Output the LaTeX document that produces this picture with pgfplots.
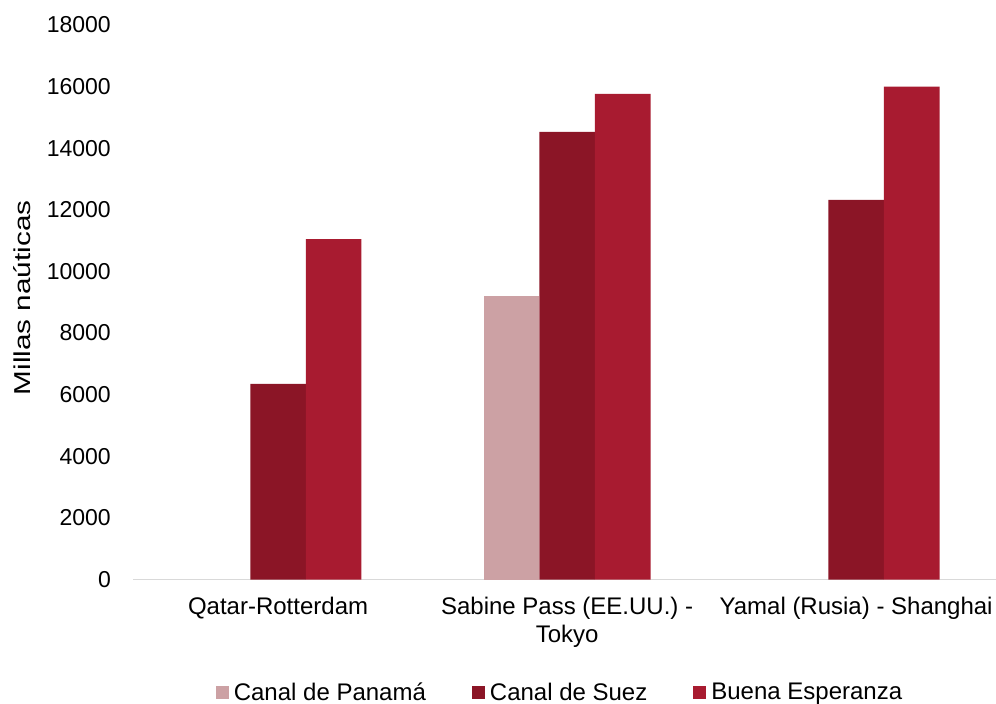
\documentclass[border=0pt]{standalone}
\usepackage{fontspec}
\setmainfont{Liberation Sans}
\usepackage{graphicx}
\usepackage{pgfplots}
\pgfplotsset{compat=1.18}
\definecolor{panama}{RGB}{204,161,164}
\definecolor{suez}{RGB}{139,21,38}
\definecolor{esperanza}{RGB}{168,27,48}
\definecolor{axisgray}{RGB}{217,217,217}
\newcommand{\tickfont}{\fontsize{23bp}{27bp}\selectfont}
\newcommand{\labelfont}{\fontsize{24bp}{28bp}\selectfont}

\begin{document}
\begin{tikzpicture}
\path[use as bounding box] (0,0) rectangle (996bp,704bp);
\begin{axis}[
  at={(133bp,124.5bp)}, anchor=south west,
  scale only axis, width=863bp, height=554.5bp,
  ybar=0pt, bar width=55.6bp,
  xmin=-0.502, xmax=2.484, ymin=0, ymax=18000,
  xtick={0,1,2},
  xticklabels={Qatar-Rotterdam, {Sabine Pass (EE.UU.) -\\Tokyo}, Yamal (Rusia) - Shanghai},
  ytick={0,2000,...,18000},
  axis x line*=bottom, axis y line*=left,
  y axis line style={draw=none},
  x axis line style={draw=axisgray, line width=1.5bp, -},
  major tick length=0pt,
  tick style={draw=none},
  scaled y ticks=false,
  /pgf/number format/assume math mode=true,
  /pgf/number format/1000 sep={},
  yticklabel style={font=\tickfont, anchor=east, inner sep=0pt, xshift=-22bp},
  xticklabel style={font=\labelfont, anchor=north, inner sep=0pt, yshift=-17bp, align=center},
  ylabel={\scalebox{1.29}[1]{Millas naúticas}},
  ylabel style={font=\tickfont, at={(axis description cs:-0.1287,0.508)}, anchor=center},
  legend columns=3,
  legend style={at={(0.5,-0.203)}, anchor=center, xshift=-4.5bp, draw=none, fill=none,
    font=\labelfont, inner sep=0pt,
    /tikz/every even column/.append style={column sep=44bp}},
  legend image code/.code={\fill[#1] (0bp,-6.5bp) rectangle (13bp,6.5bp); \path (16bp,0bp);},
]
\addplot[fill=panama, draw=none] coordinates {(1,9200)};
\addplot[fill=suez, draw=none] coordinates {(0,6350) (1,14530) (2,12320)};
\addplot[fill=esperanza, draw=none] coordinates {(0,11050) (1,15760) (2,16000)};
\legend{Canal de Panamá, Canal de Suez, Buena Esperanza}
\end{axis}
\end{tikzpicture}
\end{document}
